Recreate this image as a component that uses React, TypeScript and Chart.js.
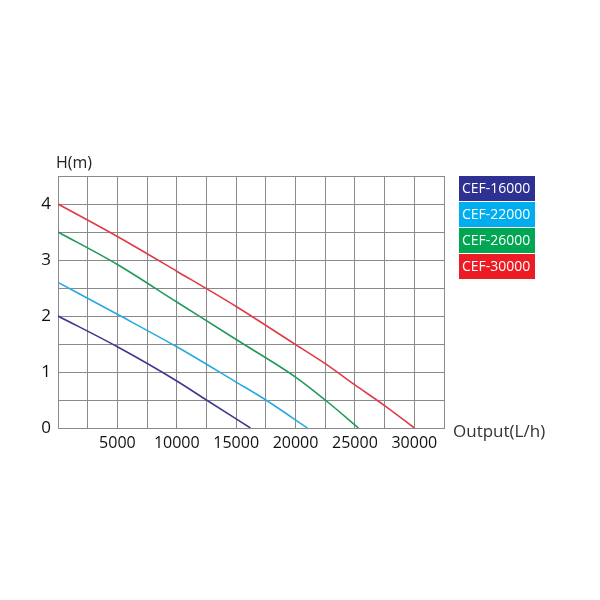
import { useEffect, useRef } from "react"
import { Chart, registerables } from "chart.js"

Chart.register(...registerables)

// Data (flow in L/h, head in m)
const modelNames = ["CEF-16000", "CEF-22000", "CEF-26000", "CEF-30000"]
const lineColors = ["#3d3a8e", "#29a9e1", "#1f9a5a", "#e23b45"]
const legendColors = ["#2e3192", "#00aeef", "#00a651", "#ed1c24"]

const flow16000 = [0, 5000, 10000, 12500, 16200]
const head16000 = [2.0, 1.45, 0.84, 0.5, 0]
const flow22000 = [0, 5000, 10000, 15000, 17500, 21000]
const head22000 = [2.6, 2.03, 1.45, 0.82, 0.5, 0]
const flow26000 = [0, 5000, 10000, 15000, 20000, 22500, 25300]
const head26000 = [3.5, 2.92, 2.25, 1.58, 0.91, 0.5, 0]
const flow30000 = [0, 5000, 10000, 15000, 20000, 22500, 25000, 27500, 30000]
const head30000 = [4.0, 3.42, 2.8, 2.17, 1.49, 1.15, 0.77, 0.4, 0]

const flows = [flow16000, flow22000, flow26000, flow30000]
const heads = [head16000, head22000, head26000, head30000]

const xTicks = [5000, 10000, 15000, 20000, 25000, 30000]
const yTicks = [0, 1, 2, 3, 4]

const FONT = "'Open Sans', 'DejaVu Sans', sans-serif"

// Extra labels: axis names and the coloured legend boxes
const extrasPlugin = {
  id: "extras",
  afterDraw(chart: Chart) {
    const ctx = chart.ctx
    const area = chart.chartArea
    ctx.save()
    ctx.fillStyle = "#222"
    ctx.font = `16px ${FONT}`
    ctx.textAlign = "left"
    ctx.textBaseline = "alphabetic"
    ctx.fillText("H(m)", 56, 168)
    ctx.fillStyle = "#333"
    ctx.font = `17px ${FONT}`
    ctx.textBaseline = "middle"
    ctx.fillText("Output(L/h)", area.right + 9, area.bottom + 4)

    const boxX = 459
    const boxW = 76
    const boxH = 26
    let y = 176
    modelNames.forEach((name, i) => {
      ctx.fillStyle = legendColors[i]
      ctx.fillRect(boxX, y, boxW, boxH - 1)
      ctx.fillStyle = "#fff"
      ctx.font = `14px ${FONT}`
      ctx.textAlign = "left"
      ctx.textBaseline = "middle"
      ctx.fillText(name, boxX + 3, y + boxH / 2)
      y += boxH
    })
    ctx.restore()
  },
}

export default function App() {
  const chartRef = useRef<HTMLCanvasElement>(null)
  const chartInstance = useRef<Chart | null>(null)

  useEffect(() => {
    if (!chartRef.current) return
    if (chartInstance.current) chartInstance.current.destroy()
    const ctx = chartRef.current.getContext("2d")
    if (!ctx) return

    chartInstance.current = new Chart(ctx, {
      type: "scatter",
      data: {
        datasets: modelNames.map((name, i) => ({
          label: name,
          data: flows[i].map((f, j) => ({ x: f, y: heads[i][j] })),
          showLine: true,
          borderColor: lineColors[i],
          backgroundColor: lineColors[i],
          borderWidth: 1.6,
          pointRadius: 0,
          cubicInterpolationMode: "monotone",
        })),
      },
      options: {
        animation: false,
        responsive: true,
        maintainAspectRatio: false,
        layout: {
          padding: { left: 0, right: 156, top: 176, bottom: 132 },
        },
        scales: {
          x: {
            type: "linear",
            min: 0,
            max: 32500,
            afterFit: (scale) => {
              scale.height = 40
            },
            grid: { color: "#8a8a8a", lineWidth: 1, drawTicks: false },
            border: { color: "#8a8a8a" },
            afterBuildTicks: (scale) => {
              const t = []
              for (let v = 0; v <= 32500; v += 2500) t.push({ value: v })
              scale.ticks = t
            },
            ticks: {
              autoSkip: false,
              maxRotation: 0,
              padding: 6,
              color: "#111",
              font: { family: FONT, size: 16 },
              callback: (v) => (xTicks.includes(Number(v)) ? String(v) : ""),
            },
          },
          y: {
            min: 0,
            max: 4.5,
            afterFit: (scale) => {
              scale.width = 58
            },
            grid: { color: "#8a8a8a", lineWidth: 1, drawTicks: false },
            border: { color: "#8a8a8a" },
            afterBuildTicks: (scale) => {
              const t = []
              for (let v = 0; v <= 4.5; v += 0.5) t.push({ value: v })
              scale.ticks = t
            },
            ticks: {
              autoSkip: false,
              padding: 7,
              color: "#111",
              font: { family: FONT, size: 17 },
              callback: (v) => (yTicks.includes(Number(v)) ? String(v) : ""),
            },
          },
        },
        plugins: {
          legend: { display: false },
          tooltip: { enabled: false },
        },
      },
      plugins: [extrasPlugin],
    })

    return () => {
      if (chartInstance.current) {
        chartInstance.current.destroy()
        chartInstance.current = null
      }
    }
  }, [])

  return (
    <div style={{ position: "absolute", left: 0, top: 0, width: 600, height: 600, background: "#fff" }}>
      <canvas ref={chartRef} />
    </div>
  )
}
